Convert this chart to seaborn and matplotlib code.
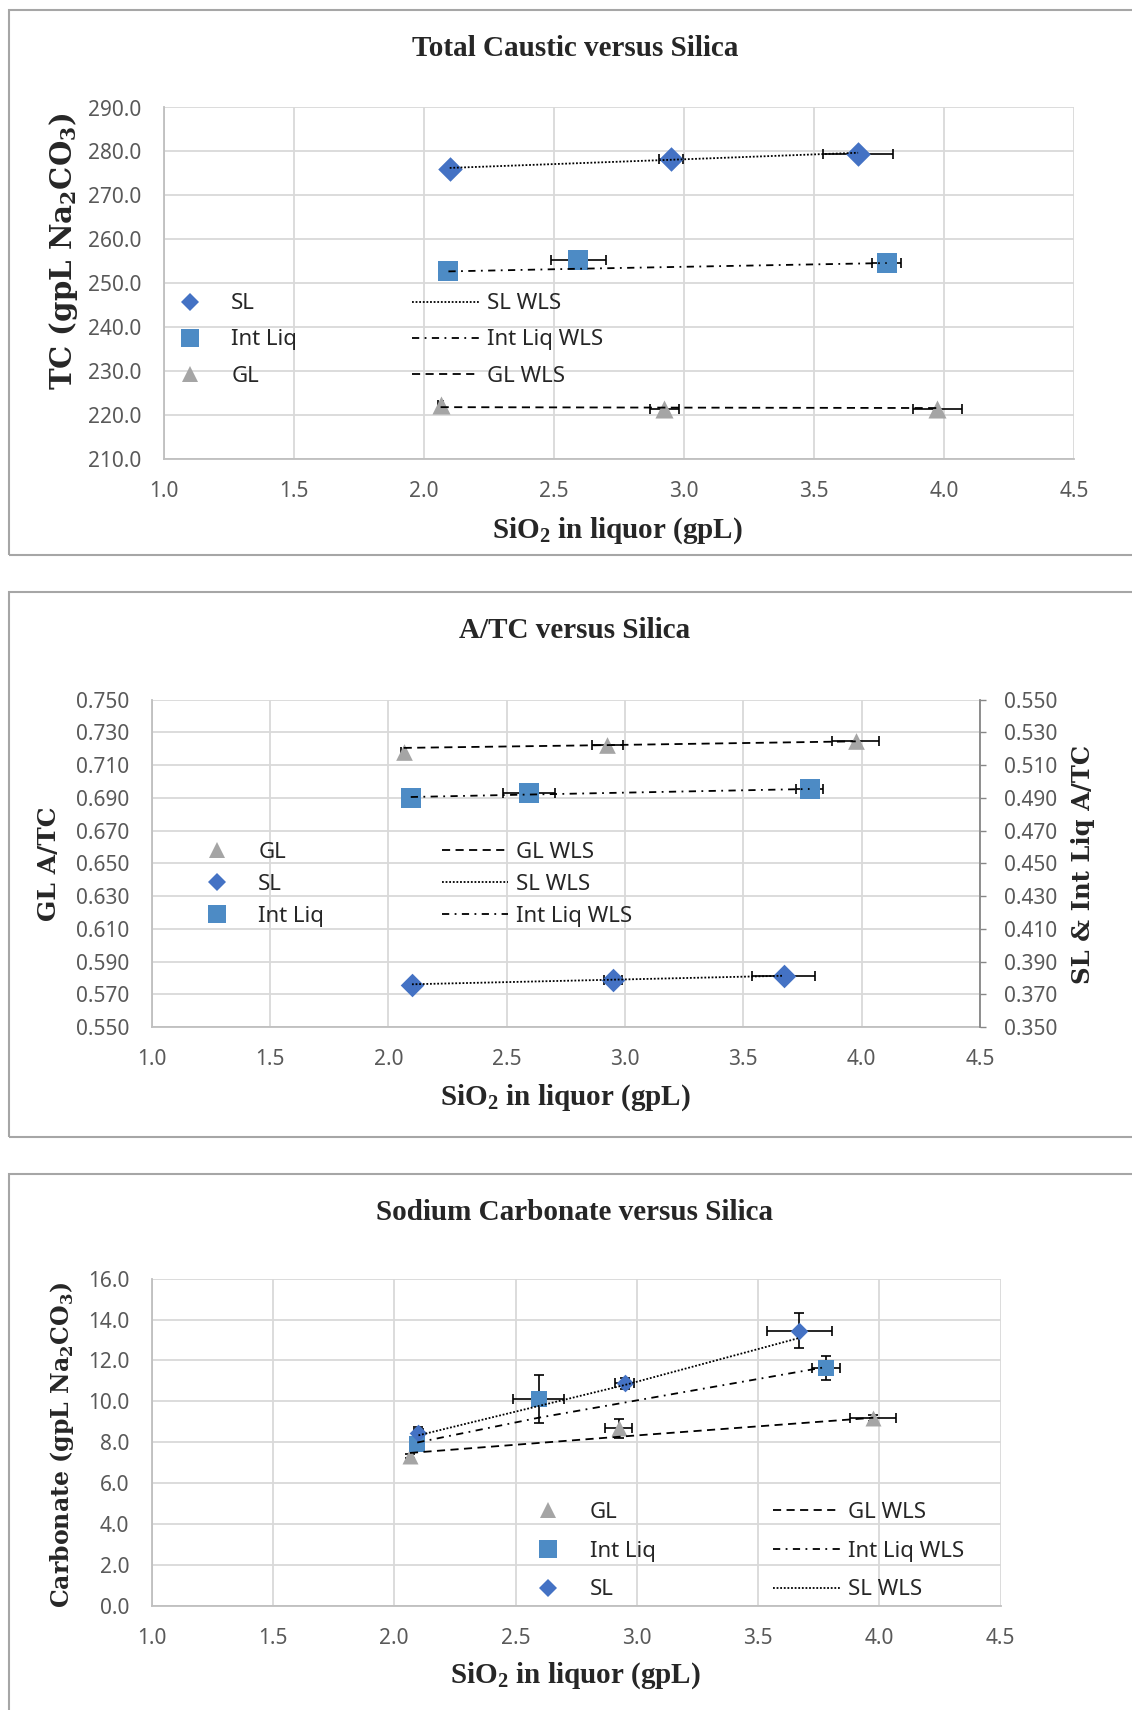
import numpy as np
import matplotlib
matplotlib.use("Agg")
import matplotlib.pyplot as plt
from matplotlib.lines import Line2D
from matplotlib.patches import Rectangle
import seaborn as sns

sns.set_style("whitegrid")
plt.rcParams["font.family"] = ["Noto Sans", "DejaVu Sans"]
plt.rcParams["mathtext.fontset"] = "custom"

# ---- data ----
# x positions (SiO2 in liquor, gpL)
sl_x = [2.10, 2.95, 3.67]
il_x = [2.095, 2.595, 3.78]
gl_x = [2.065, 2.925, 3.975]

# Total caustic (gpL Na2CO3)
tc_sl = [276.0, 278.3, 279.5]
tc_il = [252.7, 255.3, 254.6]
tc_gl = [222.3, 221.4, 221.4]
tc_sl_fit = [276.25, 278.1, 279.7]
tc_il_fit = [252.7, 253.3, 254.6]
tc_gl_fit = [221.8, 221.7, 221.6]
tc_sl_xerr = [0.01, 0.045, 0.136]
tc_il_xerr = [0.0, 0.107, 0.055]
tc_gl_xerr = [0.01, 0.055, 0.095]

# A/TC (GL on left axis, SL & Int Liq on right axis)
atc_gl = [0.7177, 0.7223, 0.7245]
atc_il = [0.4900, 0.4928, 0.4954]
atc_sl = [0.3759, 0.3787, 0.3809]
atc_gl_fit = [0.7205, 0.7222, 0.7245]
atc_il_fit = [0.4905, 0.4920, 0.4954]
atc_sl_fit = [0.3761, 0.3789, 0.3813]
atc_gl_xerr = [0.01, 0.065, 0.10]
atc_il_xerr = [0.0, 0.11, 0.058]
atc_sl_xerr = [0.0, 0.038, 0.134]

# Carbonate (gpL Na2CO3)
co_gl = [7.34, 8.68, 9.17]
co_il = [7.90, 10.11, 11.62]
co_sl = [8.46, 10.89, 13.45]
co_gl_fit = [7.48, 8.27, 9.20]
co_il_fit = [7.99, 9.20, 11.68]
co_sl_fit = [8.34, 10.80, 13.10]
co_gl_xerr = [0.0, 0.055, 0.095]
co_gl_yerr = [0.10, 0.47, 0.15]
co_il_xerr = [0.0, 0.106, 0.057]
co_il_yerr = [0.10, 1.17, 0.58]
co_sl_xerr = [0.02, 0.038, 0.134]
co_sl_yerr = [0.30, 0.27, 0.85]

x_ticks = [1.0, 1.5, 2.0, 2.5, 3.0, 3.5, 4.0, 4.5]

# ---- styles ----
c_sl = "#4472C4"
c_il = "#4D8BC5"
c_gl = "#A5A5A5"
ls_sl = (0, (1, 1))
ls_il = (0, (4, 3, 1, 3))
ls_gl = (0, (4.5, 3))
tick_col = "#595959"
grid_col = "#d9d9d9"
W, H = 1132, 1710

fig = plt.figure(figsize=(W / 100, H / 100), dpi=100)


def fx(px):
    return px / W


def fy(py):
    return 1 - py / H


def make_axes(l, t, r, b):
    return fig.add_axes([fx(l), fy(b), fx(r) - fx(l), fy(t) - fy(b)])


def style_axes(ax, yticks, fmt):
    ax.set_xlim(1.0, 4.5)
    ax.set_xticks(x_ticks)
    ax.set_xticklabels([f"{v:.1f}" for v in x_ticks])
    ax.set_ylim(yticks[0], yticks[-1])
    ax.set_yticks(yticks)
    ax.set_yticklabels([fmt.format(v) for v in yticks])
    ax.grid(True, color=grid_col, linewidth=1.3)
    for s in ["top", "right"]:
        ax.spines[s].set_visible(False)
    for s in ["left", "bottom"]:
        ax.spines[s].set_color("#bfbfbf")
        ax.spines[s].set_linewidth(1.3)
    ax.tick_params(axis="both", length=0, labelsize=15, labelcolor=tick_col)
    ax.tick_params(axis="y", pad=16)
    ax.tick_params(axis="x", pad=16)
    ax.set_xlabel("")
    ax.set_ylabel("")


def series(ax, xs, ys, fit, color, marker, ms, ls, xerr=None, yerr=None):
    ax.errorbar(xs, ys, xerr=xerr, yerr=yerr, fmt="none", ecolor="black",
                elinewidth=1.2, capsize=3.6, capthick=1.2, zorder=2.5)
    sns.scatterplot(x=xs, y=ys, ax=ax, marker=marker, s=ms ** 2, color=color,
                    edgecolor=color, linewidth=0, zorder=3, legend=False)
    sns.lineplot(x=xs, y=fit, ax=ax, color="black", linestyle=ls,
                 linewidth=1.3, errorbar=None, zorder=4, legend=False)


def legends(entries_m, entries_l, left_m, left_l, cy, spacing):
    hm = [Line2D([], [], ls="none", marker=m, color=c, markersize=s, markeredgewidth=0)
          for _, c, m, s in entries_m]
    hl = [Line2D([], [], color="black", linestyle=ls, linewidth=1.3) for _, ls in entries_l]
    for handles, labels, left in [(hm, [e[0] for e in entries_m], left_m),
                                  (hl, [e[0] for e in entries_l], left_l)]:
        fig.legend(handles=handles, labels=labels, loc="center left",
                   bbox_to_anchor=(fx(left), fy(cy)), bbox_transform=fig.transFigure,
                   frameon=False, fontsize=16, handlelength=3.0, handletextpad=0.36,
                   borderpad=0, borderaxespad=0, labelspacing=spacing)


def texts(title, tx, ty, xl, xlx, xly, yl, ylx, yly, ylsize=17):
    fig.text(fx(tx), fy(ty), title, ha="center", va="center", fontsize=21,
             fontweight="bold", family="Liberation Serif")
    fig.text(fx(xlx), fy(xly), xl, ha="center", va="center", fontsize=21,
             fontweight="bold", family="Liberation Serif")
    fig.text(fx(ylx), fy(yly), yl, ha="center", va="center", fontsize=ylsize,
             fontweight="bold", family="DejaVu Serif", rotation=90)


def panel_box(top, bottom):
    fig.add_artist(Rectangle((fx(8.7), fy(bottom)), 1.2, fy(top) - fy(bottom),
                             transform=fig.transFigure, fill=False,
                             edgecolor="#a6a6a6", linewidth=1.5))


sio2 = r"SiO$_\mathregular{2}$ in liquor (gpL)"

# ---- panel 1: Total Caustic ----
panel_box(10, 555)
ax1 = make_axes(163.6, 107.5, 1074, 459)
series(ax1, sl_x, tc_sl, tc_sl_fit, c_sl, "D", 12.5, ls_sl, xerr=tc_sl_xerr)
series(ax1, il_x, tc_il, tc_il_fit, c_il, "s", 14.8, ls_il, xerr=tc_il_xerr)
series(ax1, gl_x, tc_gl, tc_gl_fit, c_gl, "^", 13, ls_gl, xerr=tc_gl_xerr)
style_axes(ax1, list(range(210, 291, 10)), "{:.1f}")
legends([("SL", c_sl, "D", 9.5), ("Int Liq", c_il, "s", 13), ("GL", c_gl, "^", 12)],
        [("SL WLS", ls_sl), ("Int Liq WLS", ls_il), ("GL WLS", ls_gl)],
        156.5, 412, 340, 0.68)
texts("Total Caustic versus Silica", 575, 48, sio2, 617, 531,
      r"TC (gpL Na$_\mathregular{2}$CO$_\mathregular{3}$)", 63, 251, ylsize=21)

# ---- panel 2: A/TC ----
panel_box(592, 1137)
ax2 = make_axes(151.6, 699.6, 980, 1027)
ax2r = ax2.twinx()
series(ax2, gl_x, atc_gl, atc_gl_fit, c_gl, "^", 12, ls_gl, xerr=atc_gl_xerr)
series(ax2r, il_x, atc_il, atc_il_fit, c_il, "s", 15, ls_il, xerr=atc_il_xerr)
series(ax2r, sl_x, atc_sl, atc_sl_fit, c_sl, "D", 12, ls_sl, xerr=atc_sl_xerr)
style_axes(ax2, list(np.round(np.arange(0.55, 0.7501, 0.02), 3)), "{:.3f}")
right_ticks = list(np.round(np.arange(0.35, 0.5501, 0.02), 3))
ax2r.set_ylim(0.35, 0.55)
ax2r.set_yticks(right_ticks)
ax2r.set_yticklabels([f"{v:.3f}" for v in right_ticks])
ax2r.grid(False)
ax2r.set_ylabel("")
for s in ["top", "left", "bottom"]:
    ax2r.spines[s].set_visible(False)
ax2r.spines["right"].set_color("#868686")
ax2r.spines["right"].set_linewidth(1.3)
ax2r.tick_params(axis="y", direction="out", length=4.3, width=1, color="#868686",
                 labelsize=15, labelcolor=tick_col, pad=12.7)
legends([("GL", c_gl, "^", 12), ("SL", c_sl, "D", 9.5), ("Int Liq", c_il, "s", 13)],
        [("GL WLS", ls_gl), ("SL WLS", ls_sl), ("Int Liq WLS", ls_il)],
        183.5, 441.7, 884.5, 0.5)
texts("A/TC versus Silica", 575, 630, sio2, 565, 1098, "GL A/TC", 49, 864, ylsize=18)
fig.text(fx(1083), fy(864), "SL & Int Liq A/TC", ha="center", va="center", fontsize=17.5,
         fontweight="bold", family="DejaVu Serif", rotation=90)

# ---- panel 3: Sodium Carbonate ----
panel_box(1174, 1800)
ax3 = make_axes(151.6, 1278.6, 1000.7, 1606)
series(ax3, gl_x, co_gl, co_gl_fit, c_gl, "^", 11.5, ls_gl, xerr=co_gl_xerr, yerr=co_gl_yerr)
series(ax3, il_x, co_il, co_il_fit, c_il, "s", 11.5, ls_il, xerr=co_il_xerr, yerr=co_il_yerr)
series(ax3, sl_x, co_sl, co_sl_fit, c_sl, "D", 9, ls_sl, xerr=co_sl_xerr, yerr=co_sl_yerr)
style_axes(ax3, list(range(0, 17, 2)), "{:.1f}")
legends([("GL", c_gl, "^", 12), ("Int Liq", c_il, "s", 13), ("SL", c_sl, "D", 9.5)],
        [("GL WLS", ls_gl), ("Int Liq WLS", ls_il), ("SL WLS", ls_sl)],
        515, 773, 1551, 0.8)
texts("Sodium Carbonate versus Silica", 575, 1212, sio2, 575, 1676,
      r"Carbonate (gpL Na$_\mathregular{2}$CO$_\mathregular{3}$)", 62, 1445)

fig.savefig("out.png", dpi=100)
